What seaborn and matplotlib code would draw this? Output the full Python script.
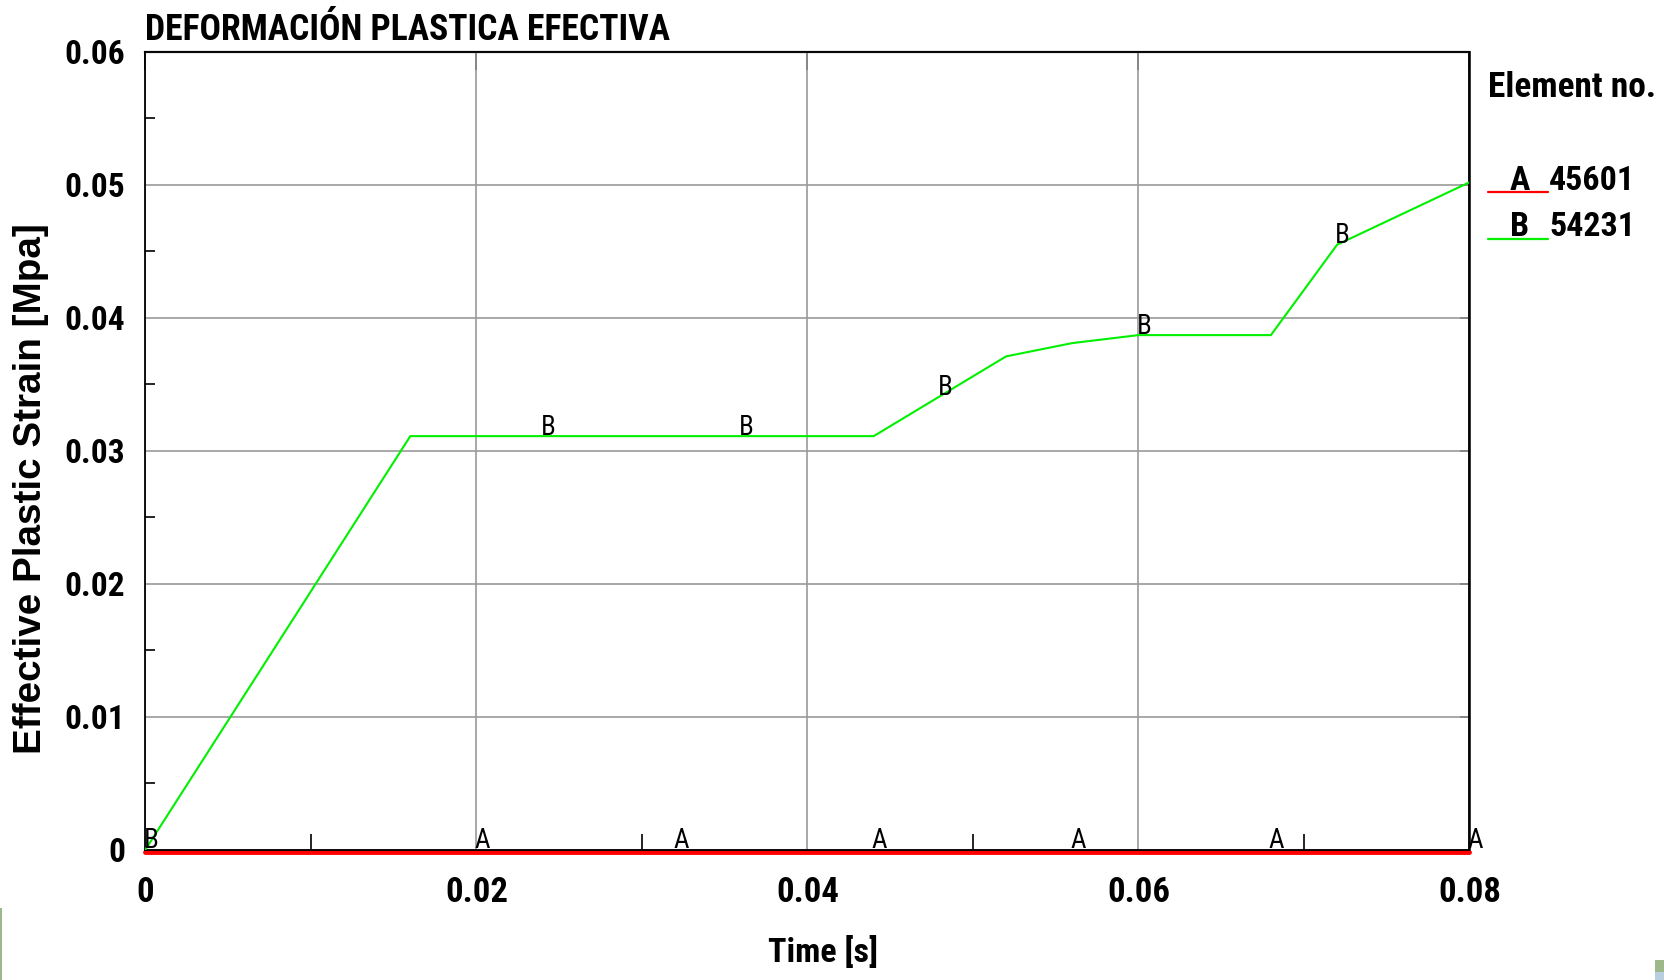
import numpy as np
import pandas as pd
import matplotlib
matplotlib.use("Agg")
import matplotlib.pyplot as plt
import matplotlib.transforms as mtransforms
from matplotlib.lines import Line2D
from matplotlib.patches import Rectangle
from matplotlib import font_manager as fm
import seaborn as sns

# ---------------- data ----------------
time_b = [0.0, 0.016, 0.044, 0.052, 0.056, 0.060, 0.068, 0.072, 0.080]
strain_b = [0.0, 0.0311, 0.0311, 0.0371, 0.0381, 0.0387, 0.0387, 0.0455, 0.0502]
time_a = [0.0, 0.02, 0.032, 0.044, 0.056, 0.068, 0.080]
strain_a = [0.0, 0.0, 0.0, 0.0, 0.0, 0.0, 0.0]
marks_a = [0.02, 0.032, 0.044, 0.056, 0.068, 0.08]
marks_b = [0.0, 0.024, 0.036, 0.048, 0.06, 0.072]
elements = ["45601", "54231"]
letters = ["A", "B"]
xticks = [0.0, 0.02, 0.04, 0.06, 0.08]
xticklabels = ["0", "0.02", "0.04", "0.06", "0.08"]
yticks = [0.0, 0.01, 0.02, 0.03, 0.04, 0.05, 0.06]
yticklabels = ["0", "0.01", "0.02", "0.03", "0.04", "0.05", "0.06"]
title = "DEFORMACIÓN PLASTICA EFECTIVA"
xlabel = "Time [s]"
ylabel = "Effective Plastic Strain [Mpa]"
legend_title = "Element no."

df = pd.concat([
    pd.DataFrame({"t": time_a, "v": strain_a, "el": elements[0]}),
    pd.DataFrame({"t": time_b, "v": strain_b, "el": elements[1]}),
])

# ---------------- style ----------------
sns.set_style("white")
names = {f.name for f in fm.fontManager.ttflist}
NARROW, K = "Liberation Sans", 0.87
for cand in ["Liberation Sans Narrow", "Roboto Condensed", "Open Sans Condensed"]:
    if cand in names:
        NARROW, K = cand, 1.0
        break
FAM = [NARROW, "DejaVu Sans"]
plt.rcParams["font.family"] = FAM
for key in ["text.color", "axes.labelcolor", "xtick.color", "ytick.color",
            "xtick.labelcolor", "ytick.labelcolor"]:
    plt.rcParams[key] = "black"

RED = "#ff0000"
GREEN = "#00f000"
W, H = 1665, 980
fig = plt.figure(figsize=(W / 100, H / 100), dpi=100)
ax = fig.add_axes([145.5 / W, 1 - 849.5 / H, 1324 / W, 797.5 / H])

ax.set_xlim(0, 0.08)
ax.set_ylim(0, 0.06)
ax.set_axisbelow(True)
ax.grid(True, which="major", color="#9a9a9a", lw=1.2)

# red line (element A), slightly shifted under the axis line
red_tr = mtransforms.offset_copy(ax.transData, fig=fig, x=0, y=-2.5, units="dots")
sns.lineplot(data=df[df.el == elements[0]], x="t", y="v", color=RED, lw=3.5,
             ax=ax, legend=False, estimator=None, sort=False, zorder=2,
             transform=red_tr, clip_on=False)
sns.lineplot(data=df[df.el == elements[1]], x="t", y="v", color=GREEN, lw=1.5,
             ax=ax, legend=False, estimator=None, sort=False, zorder=3)
ax.set_ylabel("")

# letter markers along the curves
lt = mtransforms.offset_copy(ax.transData, fig=fig, x=-2, y=1.5, units="dots")
for x in marks_a:
    ax.text(x, 0.0, "A", transform=lt, ha="left", va="baseline", fontsize=19.5 * K,
            color="black", clip_on=False, zorder=4)
for x in marks_b:
    yv = float(np.interp(x, time_b, strain_b))
    ax.text(x, yv, "B", transform=lt, ha="left", va="baseline", fontsize=19.5 * K,
            color="black", clip_on=False, zorder=4)

# spines
for s in ax.spines.values():
    s.set_color("black")
    s.set_linewidth(1.3)
    s.set_visible(True)

# ticks
ax.set_xticks(xticks)
ax.set_xticklabels(xticklabels)
ax.set_yticks(yticks)
ax.set_yticklabels(yticklabels)
ax.set_xticks([0.01, 0.03, 0.05, 0.07], minor=True)
ax.set_yticks([0.005, 0.015, 0.025, 0.035, 0.045, 0.055], minor=True)
ax.tick_params(axis="x", which="major", direction="out", length=14.4, width=1.2,
               color="black", pad=5.0, labelsize=25 * K, labelcolor="black")
ax.tick_params(axis="x", which="minor", direction="in", length=11.5, width=1.2,
               color="black", bottom=True)
ax.tick_params(axis="y", which="major", direction="inout", length=18, width=1.2,
               color="black", pad=5.5, labelsize=24 * K, labelcolor="black")
ax.tick_params(axis="y", which="minor", direction="in", length=7.5, width=1.2,
               color="black", left=True)
for lab in ax.get_xticklabels() + ax.get_yticklabels():
    lab.set_fontweight("bold")
    lab.set_family(FAM)

# right & top inward ticks
sec_y = ax.secondary_yaxis("right")
sec_y.set_yticks(yticks)
sec_y.tick_params(direction="in", length=7.5, width=1.2, color="black", labelright=False)
sec_y.spines["right"].set_linewidth(1.3)
sec_x = ax.secondary_xaxis("top")
sec_x.set_xticks(xticks)
sec_x.tick_params(direction="in", length=13, width=1.2, color="black", labeltop=False)
sec_x.spines["top"].set_linewidth(1.6)

# labels
ax.set_title(title, loc="left", pad=8.5, fontsize=25.7 * K, fontweight="bold",
             family=FAM, color="black")
ax.set_xlabel(xlabel, fontsize=24.5 * K, fontweight="bold", family=FAM, color="black")
ax.xaxis.set_label_coords((823 - 145.5) / 1324, (849.5 - 936) / 797.5)
fig.text(31 / W, 1 - 489 / H, ylabel, rotation=90, ha="center", va="center",
         fontsize=27.8, fontweight="bold", family=["Liberation Sans", "DejaVu Sans"],
         color="black")

# legend (manual, as in the reference)
fig.text(1488 / W, 1 - 97 / H, legend_title, ha="left", va="baseline",
         fontsize=25.5 * K, fontweight="bold", family=FAM, color="black")
rows = [(190, 192, RED), (236, 239, GREEN)]
for (base, ly, col), let, el in zip(rows, letters, elements):
    fig.text(1519.5 / W, 1 - base / H, let, ha="center", va="baseline",
             fontsize=24.5 * K, fontweight="bold", family=FAM, color="black")
    fig.text(1549 / W, 1 - base / H, el, ha="left", va="baseline",
             fontsize=24.5 * K, fontweight="bold", family=FAM, color="black")
    fig.add_artist(Line2D([1488 / W, 1548 / W], [1 - ly / H, 1 - ly / H],
                          color=col, lw=1.6, transform=fig.transFigure))

# small edge artefacts of the original screenshot
fig.patches.append(Rectangle((0, 0), 2.5 / W, 72 / H, transform=fig.transFigure,
                             facecolor="#9db88b", edgecolor="none"))
fig.patches.append(Rectangle((1655 / W, 8 / H), 10 / W, 12 / H, transform=fig.transFigure,
                             facecolor="#9db88b", edgecolor="none"))
fig.patches.append(Rectangle((1655 / W, 0), 10 / W, 8 / H, transform=fig.transFigure,
                             facecolor="#b9cfe0", edgecolor="none"))

fig.savefig("out.png", dpi=100)
